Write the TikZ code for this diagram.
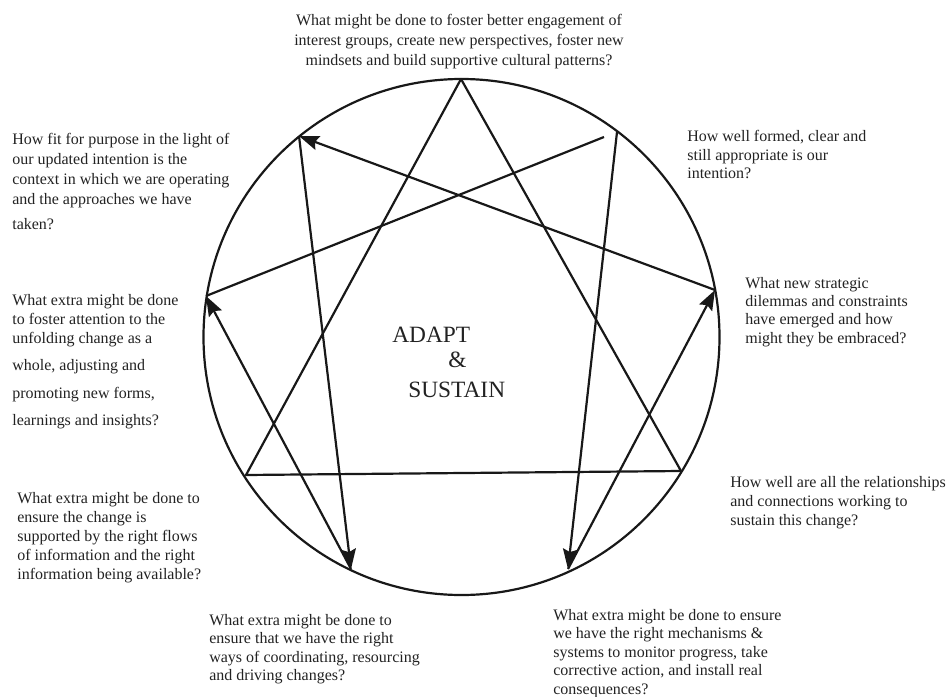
\documentclass[tikz,border=0pt]{standalone}
\usepackage{fontspec}
\setmainfont{Liberation Serif}
\usepackage{tikz}
\usetikzlibrary{arrows.meta}
\definecolor{inkblack}{RGB}{24,24,24}
\definecolor{textgray}{RGB}{34,34,34}
\tikzset{
  ring/.style={draw=inkblack,line width=1.25pt},
  chord/.style={draw=inkblack,line width=1.25pt,line join=round},
  flow/.style={chord,-{Stealth[length=4mm,width=2.9mm,inset=0.6mm]}},
  question/.style={text=textgray,align=left,inner sep=0pt,anchor=north west,
    font=\fontsize{9.1}{10.5}\selectfont},
  hub/.style={text=textgray,align=left,inner sep=0pt,anchor=north west,
    font=\fontsize{13.3}{14.2}\selectfont}
}

\begin{document}
\begin{tikzpicture}[x=0.02cm,y=-0.02cm]
\useasboundingbox (0,0) rectangle (946,696);
% ring and its nine points
\coordinate (centre) at (461.5,337);
\draw[ring] (centre) circle[radius=258];
\coordinate (p9) at (461,79);
\coordinate (p1) at (617,132);
\coordinate (p2) at (715,290);
\coordinate (p3) at (681,471);
\coordinate (p4) at (568,569);
\coordinate (p5) at (351,569);
\coordinate (p6) at (246,475);
\coordinate (p7) at (206,296);
\coordinate (p8) at (299,136);
\coordinate (e1) at (604,137);
% triangle
\draw[chord] (p9) -- (p3) -- (p6) -- cycle;
% hexad
\draw[flow] (p1) -- (p4);
\draw[flow] (p4) -- (p2);
\draw[flow] (p2) -- (p8);
\draw[flow] (p8) -- (p5);
\draw[flow] (p5) -- (p7);
\draw[chord] (p7) -- (e1);
% centre label
\node[hub] (hub) at (392,326.5)
  {ADAPT\\\hspace*{1.12cm}\&\\[2.9pt]\hspace*{0.32cm}SUSTAIN};
% questions round the ring
\node[question, anchor=north, align=center, font=\fontsize{9.1}{11.4}\selectfont]
  (qtop) at (459,14)
  {What might be done to foster better engagement of\\
   interest groups, create new perspectives, foster new\\
   mindsets and build supportive cultural patterns?};
\node[question] (qintent) at (687,130)
  {How well formed, clear and\\still appropriate is our\\intention?};
\node[question, font=\fontsize{9.1}{10.4}\selectfont] (qdilemma) at (745,277)
  {What new strategic\\dilemmas and constraints\\have emerged and how\\might they be embraced?};
\node[question, font=\fontsize{9.1}{10.8}\selectfont] (qrelate) at (730,476)
  {How well are all the relationships\\and connections working to\\sustain this change?};
\node[question] (qmonitor) at (553,609)
  {What extra might be done to ensure\\we have the right mechanisms \&\\systems to monitor progress, take\\corrective action, and install real\\consequences?};
\node[question] (qcoord) at (209,614)
  {What extra might be done to\\ensure that we have the right\\ways of coordinating, resourcing\\and driving changes?};
\node[question, font=\fontsize{9.1}{10.8}\selectfont] (qinfo) at (17,492)
  {What extra might be done to\\ensure the change is\\supported by the right flows\\of information and the right\\information being available?};
\node[question, font=\fontsize{9.1}{10.8}\selectfont] (qwhole) at (12,294)
  {What extra might be done\\to foster attention to the\\unfolding change as a\\[4.6pt]whole, adjusting and\\[5pt]promoting new forms,\\[4.6pt]learnings and insights?};
\node[question, font=\fontsize{9.1}{11.4}\selectfont] (qfit) at (12,133)
  {How fit for purpose in the light of\\our updated intention is the\\context in which we are operating\\and the approaches we have\\[2.8pt]taken?};
\end{tikzpicture}
\end{document}
